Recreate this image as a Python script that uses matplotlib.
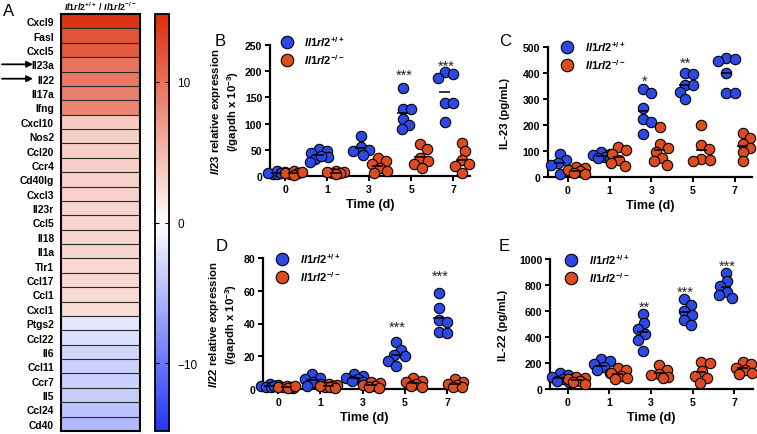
import numpy as np
import matplotlib
matplotlib.use("Agg")
import matplotlib.pyplot as plt
from matplotlib.colors import LinearSegmentedColormap
from matplotlib.lines import Line2D

plt.rcParams['font.family'] = ['Liberation Sans', 'DejaVu Sans']
plt.rcParams['mathtext.fontset'] = 'custom'
plt.rcParams['mathtext.rm'] = 'Liberation Sans:bold'
plt.rcParams['mathtext.it'] = 'Liberation Sans:italic:bold'
plt.rcParams['mathtext.bf'] = 'Liberation Sans:bold'

# ---- panel A data: log ratio Il1rl2+/+ / Il1rl2-/-
genes = ['Cxcl9', 'Fasl', 'Cxcl5', 'Il23a', 'Il22', 'Il17a', 'Ifng', 'Cxcl10',
         'Nos2', 'Ccl20', 'Ccr4', 'Cd40lg', 'Cxcl3', 'Il23r', 'Ccl5', 'Il18',
         'Il1a', 'Tlr1', 'Ccl17', 'Ccl1', 'Cxcl1', 'Ptgs2', 'Ccl22', 'Il6',
         'Ccl11', 'Ccr7', 'Il5', 'Ccl24', 'Cd40']
log_ratio = [14.3, 12.0, 11.6, 9.8, 9.3, 9.0, 8.6, 3.6, 3.4, 3.4, 3.3, 3.2,
             3.2, 3.0, 2.9, 2.8, 2.8, 2.6, 2.6, 2.5, 2.5, -1.8, -2.3, -3.0,
             -3.4, -3.5, -3.7, -4.3, -5.2]
arrow_genes = ['Il23a', 'Il22']

days = ['0', '1', '3', '5', '7']

# ---- panel B: Il23 mRNA
b_wt = [[4, 8, 3, 6, 10, 5], [51, 47, 43, 36, 33, 27, 38], [77, 55, 50, 47, 40],
        [168, 128, 127, 108, 97, 89], [198, 194, 187, 140, 139, 104]]
b_ko = [[3, 6, 9, 5, 2, 7], [10, 8, 6, 5, 7, 4], [35, 28, 22, 16, 10, 5],
        [62, 52, 35, 28, 22, 15], [63, 48, 30, 22, 19, 6]]
b_stars = ['', '', '', '***', '***']
b_star_y = [0, 0, 0, 198, 216]

# ---- panel C: IL-23 protein
c_wt = [[88, 66, 55, 48, 12], [95, 90, 85, 78, 75, 68], [340, 325, 265, 222, 212, 165],
        [400, 398, 355, 352, 328, 300], [456, 452, 446, 400, 322, 322]]
c_ko = [[40, 34, 27, 22, 15, 10], [115, 103, 90, 67, 52, 44], [192, 127, 112, 98, 75, 62, 48],
        [200, 122, 108, 68, 66, 62], [170, 150, 128, 112, 95, 62]]
c_stars = ['', '', '*', '**', '***']
c_star_y = [0, 0, 380, 451, 505]

# ---- panel D: Il22 mRNA
d_wt = [[3, 2, 1.5, 2.5, 1, 2], [9, 7, 6, 4.5, 3, 2], [9, 8, 7, 6, 5, 4],
        [28.5, 24, 20.5, 20, 17, 14], [58.5, 49.5, 42, 41, 35, 34.5]]
d_ko = [[1, 1.5, 0.8, 2, 1.2, 0.5, 1.8], [3, 2.5, 2, 1.5, 1, 0.8, 2], [4.5, 3.5, 2.5, 2, 1.2, 0.8],
        [6.5, 5, 4, 3, 2, 1], [6, 4, 3, 2.5, 1.5, 1]]
d_stars = ['', '', '', '***', '***']
d_star_y = [0, 0, 0, 39.7, 70.8]

# ---- panel E: IL-22 protein
e_wt = [[120, 110, 90, 75, 55, 65], [230, 215, 195, 170, 145, 125], [575, 510, 460, 420, 380, 290],
        [695, 650, 600, 570, 530, 490], [895, 830, 790, 750, 720, 700]]
e_ko = [[95, 85, 75, 65, 55, 40], [160, 150, 120, 100, 85, 75], [185, 150, 115, 105, 95, 88],
        [205, 200, 140, 100, 85, 50], [205, 190, 165, 150, 125, 115]]
e_stars = ['', '', '**', '***', '***']
e_star_y = [0, 0, 654, 769, 969]

BLUE = '#2d49e4'
RED = '#dd4b20'
W, H = 757, 435

fig = plt.figure(figsize=(W / 100, H / 100), dpi=100)


def fbox(x0, y_top, x1, y_bot):
    return [x0 / W, 1 - y_bot / H, (x1 - x0) / W, (y_bot - y_top) / H]


# ================= panel A =================
axh = fig.add_axes(fbox(61, 15, 140, 432))
cmap = LinearSegmentedColormap.from_list('bwr2', ['#2236f5', '#ffffff', '#dc2c0c'])
im = axh.imshow(np.array(log_ratio)[:, None], aspect='auto', cmap=cmap,
                vmin=-14.8, vmax=14.8, interpolation='nearest')
n = len(genes)
axh.hlines(np.arange(0.5, n - 0.5), -0.5, 0.5, color='#2a2a2a', lw=0.8)
axh.set_xticks([])
axh.set_yticks(range(n))
axh.set_yticklabels(genes, fontsize=7.4, fontweight='bold')
axh.tick_params(axis='y', length=0, pad=5)
for s in axh.spines.values():
    s.set_linewidth(1.5)

cax = fig.add_axes(fbox(155, 15, 169, 432))
cb = fig.colorbar(im, cax=cax, ticks=[-10, 0, 10])
cb.outline.set_linewidth(1.3)
cax.tick_params(axis='y', direction='in', left=True, right=True, length=3,
                width=0.8, labelsize=8.5, pad=6)

for g in arrow_genes:
    axh.annotate('', xy=(33 / W, genes.index(g)), xytext=(2 / W, genes.index(g)),
                 xycoords=('figure fraction', 'data'),
                 textcoords=('figure fraction', 'data'),
                 arrowprops=dict(arrowstyle='-|>', lw=1.3, color='black',
                                 mutation_scale=9, shrinkA=0, shrinkB=0))

fig.text(100 / W, 1 - 7 / H, r'$Il1rl2^{+/+}\ /\ Il1rl2^{-/-}$', ha='center',
         va='center', fontsize=6.4)
fig.text(3 / W, 1 - 11 / H, 'A', fontsize=12, va='center')


# ================= scatter panels =================
def swarm_x(values, centre, px_x, px_y, diam=8.5, spread=9.0):
    placed = []
    xs = np.zeros(len(values))
    cands = [0.0]
    for s in np.arange(0.5, spread + 0.01, 0.5):
        cands += [s, -s]
    vals = np.asarray(values, float)
    for i in np.argsort(vals)[::-1]:
        yp = vals[i] * px_y
        best, best_d = 0.0, -1.0
        for c in cands:
            dmin = min([np.hypot(c - px, yp - py) for px, py in placed] or [np.inf])
            if dmin >= diam:
                best = c
                break
            if dmin > best_d:
                best, best_d = c, dmin
        placed.append((best, yp))
        xs[i] = centre + best / px_x
    return xs


def scatter_panel(box, xlim, ymax, ystep, wt, ko, stars, star_y, ylabel, letter,
                  letter_xy, ylab_size, ylab_pad, leg_anchor):
    ax = fig.add_axes(fbox(*box))
    ax.set_xlim(*xlim)
    ax.set_ylim(0, ymax)
    pos = ax.get_position()
    px_x = pos.width * W / (xlim[1] - xlim[0])
    px_y = pos.height * H / ymax
    for i in range(len(days)):
        for vals, off, col in ((wt[i], -0.2, BLUE), (ko[i], 0.2, RED)):
            xs = swarm_x(vals, i + off, px_x, px_y)
            ax.scatter(xs, vals, s=56, c=col, edgecolors='black', linewidths=0.8,
                       zorder=3, clip_on=False)
            ax.hlines(np.mean(vals), i + off - 0.13, i + off + 0.13, color='black',
                      lw=1.1, zorder=4, clip_on=False)
        if stars[i]:
            ax.annotate(stars[i], (i - 0.17, star_y[i]), xytext=(0, -5),
                        textcoords='offset points', ha='center', va='baseline',
                        fontsize=10.5, color='#222222')
    ax.set_xticks(range(len(days)))
    ax.set_xticklabels(days)
    ax.set_yticks(np.arange(0, ymax + 1, ystep))
    for s in ('top', 'right'):
        ax.spines[s].set_visible(False)
    for s in ('left', 'bottom'):
        ax.spines[s].set_linewidth(1.6)
    ax.tick_params(axis='both', width=1.4, length=3.5, labelsize=7.6, pad=2)
    for lab in ax.get_xticklabels() + ax.get_yticklabels():
        lab.set_fontweight('bold')
    ax.set_xlabel('Time (d)', fontsize=9, fontweight='bold', labelpad=3)
    ax.set_ylabel(ylabel, fontsize=ylab_size, fontweight='bold', labelpad=ylab_pad)
    handles = [Line2D([], [], ls='', marker='o', ms=9, mfc=c, mec='black', mew=0.8)
               for c in (BLUE, RED)]
    ax.legend(handles, [r'$Il1rl2^{+/+}$', r'$Il1rl2^{-/-}$'], loc='upper left',
              bbox_to_anchor=leg_anchor, frameon=False, fontsize=8.0,
              handlelength=1.0, handletextpad=1.1, labelspacing=0.35, borderpad=0,
              borderaxespad=0)
    fig.text(letter_xy[0] / W, 1 - letter_xy[1] / H, letter, fontsize=12, va='center')
    return ax


scatter_panel((270, 46, 470, 177), (-0.36, 4.4), 250, 50, b_wt, b_ko, b_stars, b_star_y,
              '$Il23$ relative expression\n(/gapdh x 10$^{-3}$)', 'B', (215, 41), 8.2, 3,
              (0.055, 1.08))
scatter_panel((548, 48, 752, 178), (-0.48, 4.42), 500, 100, c_wt, c_ko, c_stars, c_star_y,
              'IL-23 (pg/mL)', 'C', (499, 41), 8.2, 9, (0.065, 1.06))
scatter_panel((263, 259, 466, 390), (-0.36, 4.45), 80, 20, d_wt, d_ko, d_stars, d_star_y,
              '$Il22$ relative expression\n(/gapdh x 10$^{-3}$)', 'D', (216, 247), 8.2, 3,
              (0.065, 1.05))
scatter_panel((550, 260, 753, 390), (-0.43, 4.45), 1000, 200, e_wt, e_ko, e_stars, e_star_y,
              'IL-22 (pg/mL)', 'E', (499, 247), 8.2, 8, (0.075, 1.05))

fig.savefig('out.png', dpi=100)
